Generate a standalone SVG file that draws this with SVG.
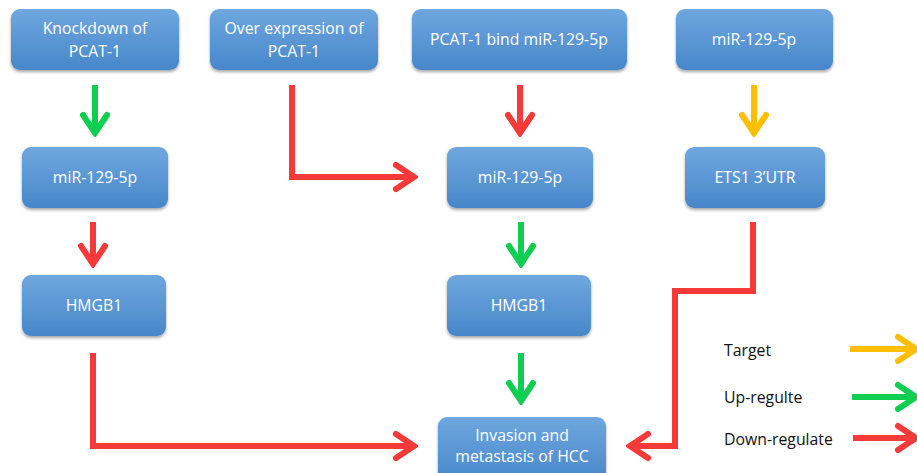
<svg xmlns="http://www.w3.org/2000/svg" width="917" height="473" viewBox="0 0 917 473">
<defs>
<linearGradient id="bg" x1="0" y1="0" x2="0" y2="1">
<stop offset="0" stop-color="#6fa7df"/>
<stop offset="1" stop-color="#4787c9"/>
</linearGradient>
<filter id="sh" x="-10%" y="-10%" width="120%" height="130%">
<feDropShadow dx="0" dy="2" stdDeviation="1.8" flood-color="#000" flood-opacity="0.35"/>
</filter>
<marker id="mr" viewBox="-22 -16 26 32" refX="0" refY="0" markerWidth="26" markerHeight="32" markerUnits="userSpaceOnUse" orient="auto">
<path d="M-18,-12 L0,0 L-18,12" fill="none" stroke="#f63a3a" stroke-width="6" stroke-linecap="round"/>
</marker>
<marker id="mg" viewBox="-22 -16 26 32" refX="0" refY="0" markerWidth="26" markerHeight="32" markerUnits="userSpaceOnUse" orient="auto">
<path d="M-18,-12 L0,0 L-18,12" fill="none" stroke="#10cf50" stroke-width="6" stroke-linecap="round"/>
</marker>
<marker id="my" viewBox="-22 -16 26 32" refX="0" refY="0" markerWidth="26" markerHeight="32" markerUnits="userSpaceOnUse" orient="auto">
<path d="M-18,-12 L0,0 L-18,12" fill="none" stroke="#ffbf00" stroke-width="6" stroke-linecap="round"/>
</marker>
</defs>
<style>
.box{fill:url(#bg);filter:url(#sh)}
.t{font-family:"Open Sans","Liberation Sans",sans-serif;font-size:15.8px;fill:#ffffff;text-anchor:middle}
.lg{font-family:"Open Sans","Liberation Sans",sans-serif;font-size:15.8px;fill:#111111}
.r{stroke:#f63a3a;stroke-width:6;fill:none;marker-end:url(#mr)}
.g{stroke:#10cf50;stroke-width:6;fill:none;marker-end:url(#mg)}
.y{stroke:#ffbf00;stroke-width:6;fill:none;marker-end:url(#my)}
</style>
<rect width="917" height="473" fill="#ffffff"/>

<g id="n1"><rect class="box" x="11" y="9" width="168" height="61" rx="9"/><text class="t" x="95" y="34">Knockdown of</text><text class="t" x="95" y="57">PCAT-1</text></g>
<g id="n2"><rect class="box" x="210" y="9" width="168" height="61" rx="9"/><text class="t" x="294" y="34">Over expression of</text><text class="t" x="294" y="57">PCAT-1</text></g>
<g id="n3"><rect class="box" x="412" y="9" width="215" height="61" rx="9"/><text class="t" x="519" y="45">PCAT-1 bind miR-129-5p</text></g>
<g id="n4"><rect class="box" x="676" y="9" width="157" height="61" rx="9"/><text class="t" x="754" y="45">miR-129-5p</text></g>
<g id="n5"><rect class="box" x="22" y="147" width="146" height="61" rx="9"/><text class="t" x="95" y="183">miR-129-5p</text></g>
<g id="n6"><rect class="box" x="447" y="147" width="146" height="61" rx="9"/><text class="t" x="520" y="183">miR-129-5p</text></g>
<g id="n7"><rect class="box" x="685" y="147" width="140" height="61" rx="9"/><text class="t" x="755" y="183">ETS1 3’UTR</text></g>
<g id="n8"><rect class="box" x="22" y="275" width="144" height="61" rx="9"/><text class="t" x="94" y="311">HMGB1</text></g>
<g id="n9"><rect class="box" x="447" y="275" width="144" height="61" rx="9"/><text class="t" x="519" y="311">HMGB1</text></g>
<g id="n10"><rect class="box" x="438" y="417" width="168" height="66" rx="9"/><text class="t" x="522" y="441">Invasion and</text><text class="t" x="522" y="462">metastasis of HCC</text></g>

<g id="connectors">
<path class="g" d="M95,85 V133"/>
<path class="r" d="M292,85 V177 H414"/>
<path class="r" d="M520,85 V133"/>
<path class="y" d="M754,85 V133"/>
<path class="r" d="M93,222 V264"/>
<path class="g" d="M521,222 V264"/>
<path class="r" d="M753,222 V291 H675 V446 H630"/>
<path class="r" d="M93,353 V446 H414"/>
<path class="g" d="M521,353 V401"/>
</g>

<g id="legend">
<text class="lg" x="724" y="356">Target</text>
<text class="lg" x="724" y="403">Up-regulte</text>
<text class="lg" x="724" y="445">Down-regulate</text>
<path class="y" d="M850,349 H916"/>
<path class="g" d="M852,397 H916"/>
<path class="r" d="M853,438 H916"/>
</g>
</svg>
